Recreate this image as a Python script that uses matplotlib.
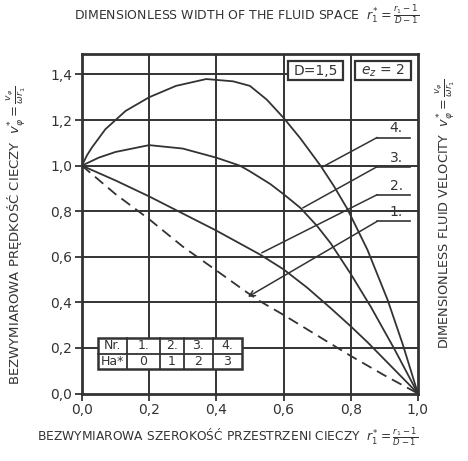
import matplotlib.pyplot as plt
from matplotlib.patches import Rectangle

plt.rcParams['font.family'] = ['DejaVu Sans']
plt.rcParams['mathtext.fontset'] = 'dejavusans'

ink = '#333333'

# curves: dimensionless width r1* -> velocity v*
x1 = [0, 0.1, 0.2, 0.3, 0.4, 0.49, 0.53, 0.6, 0.7, 0.8, 0.9, 1.0]
v1 = [1.0, 0.875, 0.765, 0.645, 0.54, 0.445, 0.405, 0.345, 0.255, 0.165, 0.08, 0.0]

x2 = [0, 0.1, 0.2, 0.3, 0.4, 0.53, 0.6, 0.67, 0.74, 0.8, 0.85, 0.9, 0.95, 1.0]
v2 = [1.0, 0.935, 0.865, 0.79, 0.715, 0.61, 0.545, 0.465, 0.375, 0.295, 0.225, 0.15, 0.075, 0.0]

x3 = [0, 0.05, 0.1, 0.2, 0.3, 0.4, 0.47, 0.5, 0.56, 0.6, 0.65, 0.7, 0.74, 0.8, 0.86, 0.93, 1.0]
v3 = [1.0, 1.035, 1.06, 1.09, 1.075, 1.035, 1.0, 0.975, 0.92, 0.875, 0.815, 0.735, 0.66, 0.525,
      0.38, 0.195, 0.0]

x4 = [0, 0.015, 0.03, 0.07, 0.13, 0.2, 0.28, 0.37, 0.45, 0.5, 0.55, 0.6, 0.65, 0.71, 0.75, 0.79,
      0.85, 0.91, 0.955, 1.0]
v4 = [1.0, 1.045, 1.08, 1.16, 1.24, 1.30, 1.35, 1.38, 1.37, 1.35, 1.29, 1.21, 1.12, 1.0, 0.91, 0.81,
      0.63, 0.41, 0.215, 0.0]

nr_labels = ['1.', '2.', '3.', '4.']
ha_values = ['0', '1', '2', '3']
# where each label's leader line touches its curve
leader_x = [0.494, 0.536, 0.658, 0.717]
leader_y = [0.424, 0.618, 0.815, 0.995]
label_y = [0.755, 0.872, 0.995, 1.123]

xticks = [0.0, 0.2, 0.4, 0.6, 0.8, 1.0]
yticks = [0.0, 0.2, 0.4, 0.6, 0.8, 1.0, 1.2, 1.4]

fig = plt.figure(figsize=(4.68, 4.61), dpi=100)
ax = fig.add_axes([0.175, 0.1464, 0.718, 0.7365])
ax.set_xlim(0, 1.0)
ax.set_ylim(0, 1.49)

# grid drawn by hand (the 1,4 line stops at the parameter boxes)
for xv in xticks[1:-1]:
    ax.axvline(xv, color=ink, lw=1.4, zorder=1)
for yv in yticks[1:]:
    if yv == 1.4:
        ax.plot([0, 0.61], [yv, yv], color=ink, lw=1.4, zorder=1)
    else:
        ax.axhline(yv, color=ink, lw=1.4, zorder=1)

ax.plot(x1, v1, color=ink, lw=1.3, ls=(0, (6, 3.5)), zorder=3)
ax.plot(x2, v2, color=ink, lw=1.3, zorder=3)
ax.plot(x3, v3, color=ink, lw=1.3, zorder=3)
ax.plot(x4, v4, color=ink, lw=1.3, zorder=3)

# numbered labels with leader lines
for i in range(4):
    ax.plot([0.878, 0.976], [label_y[i], label_y[i]], color=ink, lw=1.2, zorder=3)
    if i == 0:
        ax.annotate('', xy=(leader_x[i], leader_y[i]), xytext=(0.878, label_y[i]),
                    arrowprops=dict(arrowstyle='->', color=ink, lw=1.1,
                                    shrinkA=0, shrinkB=0), zorder=3)
    else:
        ax.plot([0.878, leader_x[i]], [label_y[i], leader_y[i]], color=ink, lw=1.1, zorder=3)
    ax.text(0.935, label_y[i] + 0.01, nr_labels[i], fontsize=10, color=ink,
            ha='center', va='bottom', zorder=4)

# parameter boxes
for x0, x1b, txt in [(0.613, 0.777, 'D=1,5'), (0.8125, 0.98, '$e_z$ = 2')]:
    ax.add_patch(Rectangle((x0, 1.375), x1b - x0, 0.085, fc='white', ec=ink, lw=1.6, zorder=5))
    ax.text((x0 + x1b) / 2, 1.4175, txt, fontsize=10, color=ink, ha='center', va='center',
            zorder=6)

# Nr / Ha table
cols = [0.048, 0.134, 0.232, 0.304, 0.39, 0.476]
rows = [0.245, 0.172, 0.108]
ax.add_patch(Rectangle((cols[0], rows[2]), cols[-1] - cols[0], rows[0] - rows[2],
                       fc='white', ec=ink, lw=1.8, zorder=5))
for c in cols[1:-1]:
    ax.plot([c, c], [rows[2], rows[0]], color=ink, lw=1.3, zorder=6)
ax.plot([cols[0], cols[-1]], [rows[1], rows[1]], color=ink, lw=1.3, zorder=6)
row_texts = [['Nr.'] + nr_labels, ['Ha*'] + ha_values]
for r in range(2):
    yc = (rows[r] + rows[r + 1]) / 2
    for c in range(5):
        ax.text((cols[c] + cols[c + 1]) / 2, yc, row_texts[r][c], fontsize=9, color=ink,
                ha='center', va='center', zorder=7)

ax.set_xticks(xticks)
ax.set_xticklabels([f'{t:.1f}'.replace('.', ',') for t in xticks])
ax.set_yticks(yticks)
ax.set_yticklabels([f'{t:.1f}'.replace('.', ',') for t in yticks])
ax.tick_params(direction='out', length=5, width=1.3, colors=ink, labelsize=10, pad=2)
for s in ax.spines.values():
    s.set_linewidth(2.0)
    s.set_color(ink)

fig.text(0.526, 0.967, r'DIMENSIONLESS WIDTH OF THE FLUID SPACE  $r_1^{*}=\frac{r_1-1}{D-1}$',
         fontsize=9, color=ink, ha='center', va='center')
fig.text(0.487, 0.052, r'BEZWYMIAROWA SZEROKOŚĆ PRZESTRZENI CIECZY  $r_1^{*}=\frac{r_1-1}{D-1}$',
         fontsize=8.8, color=ink, ha='center', va='center')
fig.text(0.035, 0.49, r'BEZWYMIAROWA PRĘDKOŚĆ CIECZY  $v_{\varphi}^{*}=\frac{v_\varphi}{\omega r_1}$',
         fontsize=9.5, color=ink, ha='center', va='center', rotation=90)
fig.text(0.952, 0.535, r'DIMENSIONLESS FLUID VELOCITY  $v_{\varphi}^{*}=\frac{v_\varphi}{\omega r_1}$',
         fontsize=9.3, color=ink, ha='center', va='center', rotation=90)

fig.savefig('out.png', dpi=100, facecolor='white')
